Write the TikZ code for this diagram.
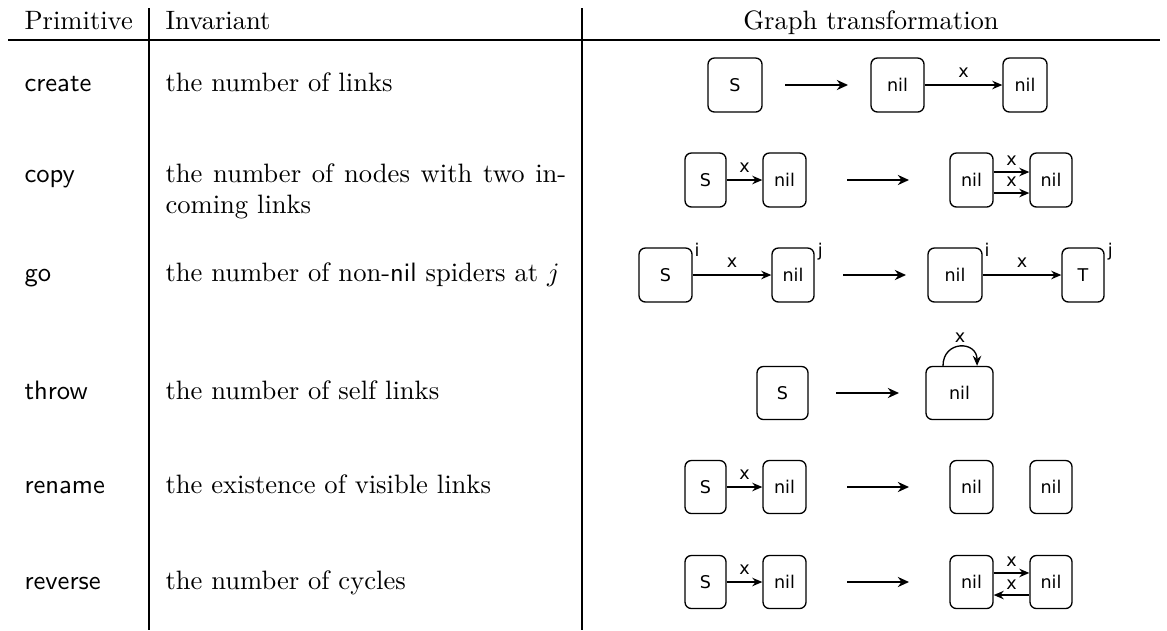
\documentclass[tikz,border=0pt]{standalone}
\usepackage{fontspec}
\newfontfamily\gfont{DejaVu Sans}
\usetikzlibrary{arrows.meta}
\def\PX{0.376pt}
\begin{document}
\begin{tikzpicture}[x=0.376pt, y=-0.376pt,
  rule/.style={line width=0.4pt},
  txt/.style={anchor=base west, inner sep=0pt, font=\rmfamily},
  prim/.style={anchor=base west, inner sep=0pt, font=\sffamily},
  gbox/.style={draw, rounded corners=2.4pt, line width=0.5pt, inner sep=0pt,
    font={\gfont\fontsize{6.6pt}{7.5pt}\selectfont}},
  glab/.style={inner sep=0pt, font={\gfont\fontsize{6.6pt}{7.5pt}\selectfont}},
  link/.style={-{Stealth[length=3.8pt,width=3.2pt]}, line width=0.5pt},
  trans/.style={-{Stealth[length=4.2pt,width=3.8pt]}, line width=0.85pt},
]
\useasboundingbox (0,0) rectangle (1167,630);

% table rules
\coordinate (hl) at (8,40);
\coordinate (hr) at (1160,40);
\draw[rule] (hl) -- (hr);
\coordinate (v1t) at (149,8);
\coordinate (v1b) at (149,630);
\coordinate (v2t) at (582,8);
\coordinate (v2b) at (582,630);
\draw[rule] (v1t) -- (v1b);
\draw[rule] (v2t) -- (v2b);

% headers
\node[txt] (h1) at (24,29) {Primitive};
\node[txt] (h2) at (165,29) {Invariant};
\node[anchor=base, inner sep=0pt] (h3) at (871,29) {Graph transformation};

% rows text
\node[prim] (p1) at (24,91) {create};
\node[txt] (i1) at (165,91) {the number of links};
\node[prim] (p2) at (24,182) {copy};
\node[txt, text width=150.7pt, align=justify] (i2) at (165,182) {the number of nodes with two in-\linebreak coming links};
\node[prim] (p3) at (24,281) {go};
\node[txt] (i3) at (165,281) {the number of non-\textsf{nil} spiders at $j$};
\node[prim] (p4) at (24,399) {throw};
\node[txt] (i4) at (165,399) {the number of self links};
\node[prim] (p5) at (24,493) {rename};
\node[txt] (i5) at (165,493) {the existence of visible links};
\node[prim] (p6) at (24,589) {reverse};
\node[txt] (i6) at (165,589) {the number of cycles};

% ---- create
\node[gbox, minimum width=54*\PX, minimum height=54*\PX] (a1) at (735,85) {S};
\node[gbox, minimum width=53*\PX, minimum height=54*\PX] (a2) at (897.5,85) {nil};
\node[gbox, minimum width=44*\PX, minimum height=54*\PX] (a3) at (1025,85) {nil};
\coordinate (ta1) at (785,85);
\coordinate (tb1) at (848,85);
\draw[trans] (ta1) -- (tb1);
\draw[link] (a2) -- node[glab, midway, above=2.4pt] {x} (a3);

% ---- copy
\node[gbox, minimum width=41*\PX, minimum height=54*\PX] (b1) at (705.5,180) {S};
\node[gbox, minimum width=43*\PX, minimum height=54*\PX] (b2) at (784.5,180) {nil};
\node[gbox, minimum width=43*\PX, minimum height=54*\PX] (b3) at (971.5,180) {nil};
\node[gbox, minimum width=42*\PX, minimum height=54*\PX] (b4) at (1051,180) {nil};
\coordinate (ta2) at (847,180);
\coordinate (tb2) at (909,180);
\draw[trans] (ta2) -- (tb2);
\draw[link] (b1) -- node[glab, midway, above=2.4pt] {x} (b2);
\draw[link] ([yshift=3pt]b3.east) -- node[glab, midway, above=2.2pt] {x} ([yshift=3pt]b4.west);
\draw[link] ([yshift=-4.9pt]b3.east) -- node[glab, midway, above=2.2pt] {x} ([yshift=-4.9pt]b4.west);

% ---- go
\node[gbox, minimum width=53*\PX, minimum height=54*\PX] (c1) at (665.5,275) {S};
\node[gbox, minimum width=42*\PX, minimum height=54*\PX] (c2) at (793,275) {nil};
\node[gbox, minimum width=54*\PX, minimum height=54*\PX] (c3) at (955,275) {nil};
\node[gbox, minimum width=42*\PX, minimum height=54*\PX] (c4) at (1083,275) {T};
\node[glab, anchor=base west] (ci1) at ([xshift=0.5pt, yshift=-3.6pt]c1.north east) {i};
\node[glab, anchor=base west] (cj2) at ([xshift=1pt, yshift=-3.6pt]c2.north east) {j};
\node[glab, anchor=base west] (ci3) at ([xshift=0.5pt, yshift=-3.6pt]c3.north east) {i};
\node[glab, anchor=base west] (cj4) at ([xshift=1pt, yshift=-3.6pt]c4.north east) {j};
\coordinate (ta3) at (843,275);
\coordinate (tb3) at (906,275);
\draw[trans] (ta3) -- (tb3);
\draw[link] (c1) -- node[glab, midway, above=2.4pt] {x} (c2);
\draw[link] (c3) -- node[glab, midway, above=2.4pt] {x} (c4);

% ---- throw
\node[gbox, minimum width=51*\PX, minimum height=53*\PX] (d1) at (782.5,393) {S};
\node[gbox, minimum width=67*\PX, minimum height=53*\PX] (d2) at (959.5,393) {nil};
\coordinate (ta4) at (836,393);
\coordinate (tb4) at (899,393);
\draw[trans] (ta4) -- (tb4);
\draw[link] ([xshift=-6.2pt]d2.north) .. controls ([xshift=-6.2pt, yshift=9.6pt]d2.north) and ([xshift=6.6pt, yshift=9.6pt]d2.north) .. node[glab, midway, above=1.4pt] {x} ([xshift=6.6pt]d2.north);

% ---- rename
\node[gbox, minimum width=41*\PX, minimum height=53*\PX] (e1) at (705.5,487) {S};
\node[gbox, minimum width=43*\PX, minimum height=53*\PX] (e2) at (784.5,487) {nil};
\node[gbox, minimum width=43*\PX, minimum height=53*\PX] (e3) at (971.5,487) {nil};
\node[gbox, minimum width=42*\PX, minimum height=53*\PX] (e4) at (1051,487) {nil};
\coordinate (ta5) at (847,487);
\coordinate (tb5) at (909,487);
\draw[trans] (ta5) -- (tb5);
\draw[link] (e1) -- node[glab, midway, above=2.4pt] {x} (e2);

% ---- reverse
\node[gbox, minimum width=41*\PX, minimum height=53*\PX] (f1) at (705.5,582) {S};
\node[gbox, minimum width=43*\PX, minimum height=53*\PX] (f2) at (784.5,582) {nil};
\node[gbox, minimum width=43*\PX, minimum height=53*\PX] (f3) at (971.5,582) {nil};
\node[gbox, minimum width=42*\PX, minimum height=53*\PX] (f4) at (1051,582) {nil};
\coordinate (ta6) at (847,582);
\coordinate (tb6) at (909,582);
\draw[trans] (ta6) -- (tb6);
\draw[link] (f1) -- node[glab, midway, above=2.4pt] {x} (f2);
\draw[link] ([yshift=3.4pt]f3.east) -- node[glab, midway, above=2pt] {x} ([yshift=3.4pt]f4.west);
\draw[link] ([yshift=-4.9pt]f4.west) -- node[glab, midway, above=2pt] {x} ([yshift=-4.9pt]f3.east);
\end{tikzpicture}
\end{document}
